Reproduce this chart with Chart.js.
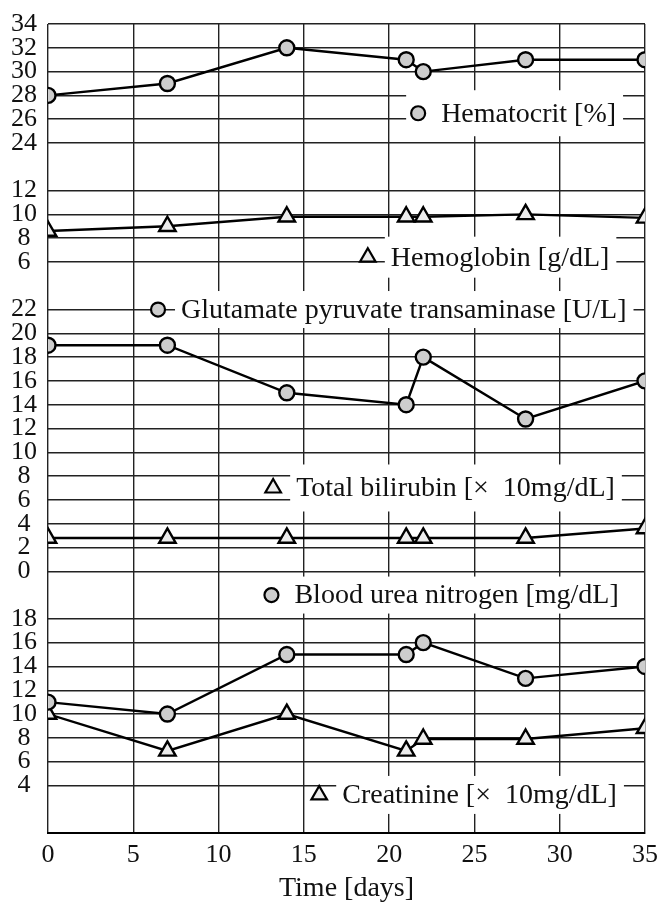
<!DOCTYPE html>
<html>
<head>
<meta charset="utf-8">
<script src="https://cdn.jsdelivr.net/npm/chart.js@4/dist/chart.umd.min.js"></script>
<style>
  html, body { margin: 0; padding: 0; background: #fff; }
  canvas { display: block; }
</style>
</head>
<body>
<canvas id="lab-chart" width="660" height="903"></canvas>
<script>
// Sampling days
const days = [0, 7, 14, 21, 22, 28, 35];

// Lab values per sampling day
const hematocrit = [28, 29, 32, 31, 30, 31, 31];
const hemoglobin = [8.6, 9.0, 9.8, 9.8, 9.8, 10.0, 9.7];
const gpt = [19, 19, 15, 14, 18, 12.8, 16];
const bilirubin = [2.8, 2.8, 2.8, 2.8, 2.8, 2.8, 3.6];
const bun = [11, 10, 15, 15, 16, 13, 14];
const creatinine = [10, 6.9, 10, 6.9, 7.9, 7.9, 8.8];

// Tick labels
const dayTicks = [0, 5, 10, 15, 20, 25, 30, 35];
const hematocritTicks = [24, 26, 28, 30, 32, 34];
const hemoglobinTicks = [6, 8, 10, 12];
const gptTicks = [0, 2, 4, 6, 8, 10, 12, 14, 16, 18, 20, 22];
const bunTicks = [4, 6, 8, 10, 12, 14, 16, 18];

const SERIF = '"Liberation Serif", "Times New Roman", serif';
const INK = '#111';
const GRID = '#222';

// Captions drawn inside the plot, anchored on the panel scales
const captions = [
    { text: 'Hematocrit [%]', style: 'circle', axis: 'yHct', day: 21.7, value: 26.5, boxH: 46, coverMarker: true },
    { text: 'Hemoglobin [g/dL]', style: 'triangle', axis: 'yHb', day: 18.75, value: 6.4, boxH: 41 },
    { text: 'Glutamate pyruvate transaminase [U/L]', style: 'circle', axis: 'yGpt', day: 6.45, value: 22, boxH: 37 },
    { text: 'Total bilirubin [\u00d7\u200210mg/dL]', style: 'triangle', axis: 'yGpt', day: 13.2, value: 7.0, boxH: 47 },
    { text: 'Blood urea nitrogen [mg/dL]', style: 'circle', axis: 'yBun', day: 13.1, value: 20, boxH: 37 },
    { text: 'Creatinine [\u00d7\u200210mg/dL]', style: 'triangle', axis: 'yBun', day: 15.9, value: 3.2, boxH: 38 },
];

const markerStyle = {
    circle: { radius: 7.5, fill: '#cdcdcd' },
    triangle: { radius: 9.5, fill: '#ececec' },
};

// Build a point series
function series(label, values, axis, style) {
    return {
        label: label,
        data: days.map((d, i) => ({ x: d, y: values[i] })),
        yAxisID: axis,
        borderColor: '#000',
        borderWidth: 2.4,
        pointStyle: style,
        pointRadius: markerStyle[style].radius,
        pointBackgroundColor: markerStyle[style].fill,
        pointBorderColor: '#000',
        pointBorderWidth: 2.4,
        tension: 0,
    };
}

// One stacked panel on the left (stack fills bottom-up)
function panelAxis(min, max, ticks) {
    return {
        type: 'linear',
        position: 'left',
        stack: 'panels',
        stackWeight: max - min,
        min: min,
        max: max,
        offset: false,
        afterBuildTicks: axis => { axis.ticks = ticks.map(v => ({ value: v })); },
        afterFit: axis => {
            axis.width = 48;
            axis.paddingTop = 0;
            axis.paddingBottom = 0;
        },
        grid: { color: GRID, lineWidth: 1.4, drawTicks: false },
        border: { display: false },
        ticks: {
            autoSkip: false,
            crossAlign: 'center',
            padding: 11,
            color: INK,
            font: { family: SERIF, size: 26, lineHeight: 1 },
        },
    };
}

// Captions with white backing
const captionPlugin = {
    id: 'captions',
    beforeDatasetsDraw(chart) {
        const ctx = chart.ctx;
        const xScale = chart.scales.x;
        ctx.save();
        ctx.font = '28px ' + SERIF;
        ctx.textBaseline = 'middle';
        ctx.textAlign = 'left';
        captions.forEach(c => {
            const mx = xScale.getPixelForValue(c.day);
            const my = chart.scales[c.axis].getPixelForValue(c.value);
            const tx = mx + 23;
            const tw = ctx.measureText(c.text).width;
            const left = c.coverMarker ? mx - 12 : tx - 6;
            ctx.fillStyle = '#fff';
            ctx.fillRect(left, my - c.boxH / 2, tx + tw + 7 - left, c.boxH);

            const m = markerStyle[c.style];
            ctx.fillStyle = m.fill;
            ctx.strokeStyle = '#000';
            ctx.lineWidth = 2.2;
            Chart.helpers.drawPoint(ctx, { pointStyle: c.style, radius: m.radius - 0.5, borderWidth: 2.2, rotation: 0 }, mx, my);

            ctx.fillStyle = INK;
            ctx.fillText(c.text, tx, my + 1);
        });
        ctx.restore();
    }
};

function initializeChart() {
    const ctx = document.getElementById('lab-chart').getContext('2d');
    new Chart(ctx, {
        type: 'line',
        data: {
            datasets: [
                series('Hematocrit [%]', hematocrit, 'yHct', 'circle'),
                series('Hemoglobin [g/dL]', hemoglobin, 'yHb', 'triangle'),
                series('Glutamate pyruvate transaminase [U/L]', gpt, 'yGpt', 'circle'),
                series('Total bilirubin [\u00d7 10mg/dL]', bilirubin, 'yGpt', 'triangle'),
                series('Blood urea nitrogen [mg/dL]', bun, 'yBun', 'circle'),
                series('Creatinine [\u00d7 10mg/dL]', creatinine, 'yBun', 'triangle'),
            ],
        },
        options: {
            responsive: false,
            animation: false,
            devicePixelRatio: 1,
            layout: { padding: { top: 24, right: 15, bottom: 0, left: 0 } },
            plugins: { legend: { display: false }, tooltip: { enabled: false } },
            scales: {
                x: {
                    type: 'linear',
                    min: 0,
                    max: 35,
                    afterBuildTicks: axis => { axis.ticks = dayTicks.map(v => ({ value: v })); },
                    afterFit: axis => {
                        axis.height = 70;
                        axis.paddingLeft = 0;
                        axis.paddingRight = 0;
                    },
                    grid: { color: GRID, lineWidth: 1.4, drawTicks: false },
                    border: { color: '#000', width: 2 },
                    ticks: { padding: 9, color: INK, font: { family: SERIF, size: 26, lineHeight: 1 } },
                    title: {
                        display: true,
                        text: 'Time [days]',
                        color: INK,
                        padding: 0,
                        font: { family: SERIF, size: 28, lineHeight: 1 },
                    },
                },
                yBun: panelAxis(0, 20, bunTicks),
                yGpt: panelAxis(-2, 24, gptTicks),
                yHb: panelAxis(4, 14, hemoglobinTicks),
                yHct: panelAxis(22, 34, hematocritTicks),
            },
        },
        plugins: [captionPlugin],
    });
}

document.addEventListener('DOMContentLoaded', initializeChart);
</script>
</body>
</html>
